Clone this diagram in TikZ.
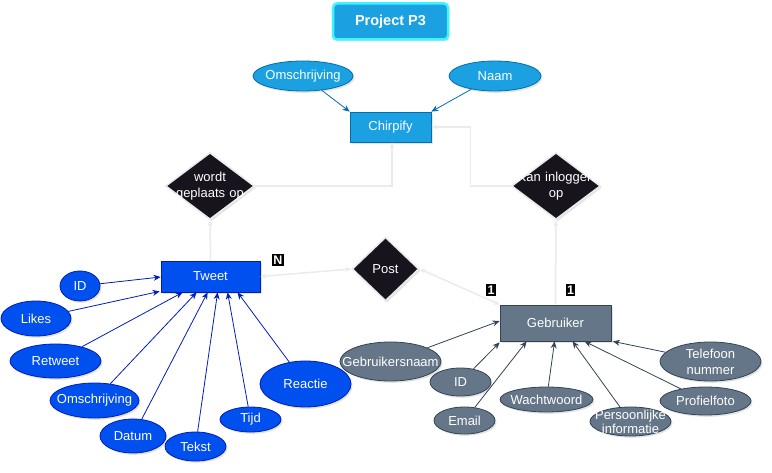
\documentclass[tikz,border=0pt]{standalone}
\usepackage{fontspec}
\setmainfont{Liberation Sans}
\usetikzlibrary{shapes.geometric,arrows.meta,shadows,calc}
\definecolor{lblue}{HTML}{1BA1E2}
\definecolor{lblueb}{HTML}{006EAF}
\definecolor{tblue}{HTML}{0050EF}
\definecolor{tblueb}{HTML}{001DBC}
\definecolor{gfill}{HTML}{647687}
\definecolor{gline}{HTML}{314354}
\definecolor{dfill}{HTML}{18141D}
\definecolor{relline}{HTML}{EBEBEB}
\definecolor{cyanb}{HTML}{3CF5FF}
\tikzset{
  shd/.style={drop shadow={opacity=0.22,shadow xshift=1.5pt,shadow yshift=-1.8pt}},
  txt/.style={font=\fontsize{13}{15}\selectfont,text=white,align=center,inner sep=0pt},
  txt2/.style={font=\fontsize{13}{15}\selectfont,text=white,align=center,inner sep=0pt},
  entbox/.style={rectangle,txt,shd},
  attrell/.style={ellipse,inner sep=0pt,shd,line width=0.8pt},
  relshape/.style={diamond,draw=relline,fill=dfill,line width=1.6pt,inner sep=0pt,shd},
  rellbl/.style={txt,text width=100pt,font=\fontsize{13}{16}\selectfont},
  relc/.style={draw=relline,line width=1.5pt,-{Stealth[length=6pt,width=5pt]}},
  relcc/.style={draw=relline,line width=1.5pt,{Stealth[length=6pt,width=5pt]}-{Stealth[length=6pt,width=5pt]}},
  tarr/.style={draw=tblueb,line width=0.8pt,-{Stealth[length=7pt,width=6pt]}},
  garr/.style={draw=gline,line width=0.8pt,-{Stealth[length=7pt,width=6pt]}},
  bwo/.style={rectangle,fill=black,text=white,font=\bfseries\fontsize{12.5}{13}\selectfont,inner xsep=1.3pt,inner ysep=1.6pt},
  tatt/.style={attrell,fill=tblue,draw=tblueb},
  gatt/.style={attrell,fill=gfill,draw=gline},
  lab/.style={label={[txt]center:{#1}}},
}
\begin{document}
\begin{tikzpicture}[x=1pt,y=-1pt]
\useasboundingbox (0,0) rectangle (772,473);

% title
\node[rectangle,rounded corners=4pt,fill=lblue,draw=cyanb,line width=2.5pt,
  minimum width=115pt,minimum height=36pt,text=white,
  font=\bfseries\fontsize{14.5}{16}\selectfont,shd] (title) at (390.5,21.5) {Project P3};

% entities
\node[entbox,fill=lblue,draw=lblueb,line width=0.8pt,minimum width=81pt,minimum height=30pt] (ch) at (390.5,127) {Chirpify};
\node[entbox,fill=tblue,draw=tblueb,line width=0.8pt,minimum width=99pt,minimum height=31pt] (tw) at (210.5,276.5) {Tweet};
\node[entbox,fill=gfill,draw=gline,line width=0.8pt,minimum width=111pt,minimum height=36pt] (ge) at (555.5,323) {Gebruiker};

% Chirpify attributes
\node[attrell,fill=lblue,draw=lblueb,minimum width=100pt,minimum height=30pt,lab=Omschrijving] (com) at (303,76) {};
\node[attrell,fill=lblue,draw=lblueb,minimum width=92pt,minimum height=30pt,lab=Naam] (cna) at (495,76) {};
\draw[draw=lblueb,line width=0.8pt,-{Stealth[length=7pt,width=6pt]}] (com) -- (ch.north west);
\draw[draw=lblueb,line width=0.8pt,-{Stealth[length=7pt,width=6pt]}] (cna) -- (ch.north east);

% relationships
\node[relshape,minimum width=89pt,minimum height=67pt] (wg) at (210,186) {};
\node[rellbl] at (wg) {wordt\\geplaats op};
\node[relshape,minimum width=89pt,minimum height=67pt] (ki) at (556,186) {};
\node[rellbl] at (ki) {Kan inloggen\\op};
\node[relshape,minimum width=67pt,minimum height=64pt] (po) at (385.5,269) {};
\node[rellbl] at (po) {Post};

% relationship connectors
\draw[relc] (wg.east) -| ([xshift=1.5pt]ch.south);
\draw[relc] (ki.west) -- ++(-40,0) |- (ch.east);
\draw[relc] (tw.north) -- (wg.south);
\draw[relc] (ge.north) -- (ki.south);
\draw[relcc] (po.west) -- (tw.east);
\draw[relcc] (po.east) -- (ge.north west);

% cardinalities
\node[bwo] (cn) at (278,260) {N};
\node[bwo] (c1a) at (491,290) {1};
\node[bwo] (c1b) at (570.5,290) {1};

% Tweet attributes
\node[tatt,minimum width=40pt,minimum height=30pt,lab=ID] (tid) at (80,286) {};
\node[tatt,minimum width=70pt,minimum height=35pt,lab=Likes] (tli) at (36,318.5) {};
\node[tatt,minimum width=91pt,minimum height=34pt,lab=Retweet] (tre) at (55.5,361) {};
\node[tatt,minimum width=89pt,minimum height=35pt,lab=Omschrijving] (tom) at (94.5,400.5) {};
\node[tatt,minimum width=66pt,minimum height=34pt,lab=Datum] (tda) at (133,436) {};
\node[tatt,minimum width=61pt,minimum height=29pt,lab=Tekst] (tte) at (195.5,446.5) {};
\node[tatt,minimum width=61pt,minimum height=25pt,lab=Tijd] (tti) at (250.5,419.5) {};
\node[tatt,minimum width=91pt,minimum height=46pt,lab=Reactie] (tra) at (305.5,384) {};

\draw[tarr] (tid) -- ([yshift=-0.5pt]tw.west);
\draw[tarr] (tli) -- ([xshift=-1pt,yshift=1pt]tw.south west);
\draw[tarr] (tre) -- ([xshift=22pt]tw.south west);
\draw[tarr] (tom) -- ([xshift=36pt]tw.south west);
\draw[tarr] (tda) -- ([xshift=47pt]tw.south west);
\draw[tarr] (tte) -- ([xshift=57pt]tw.south west);
\draw[tarr] (tti) -- ([xshift=67pt]tw.south west);
\draw[tarr] (tra) -- ([xshift=77pt]tw.south west);

% Gebruiker attributes
\node[gatt,minimum width=101pt,minimum height=39pt,lab=Gebruikersnaam] (gna) at (390.5,361.5) {};
\node[gatt,minimum width=61pt,minimum height=28pt,lab=ID] (gid) at (460.5,382) {};
\node[gatt,minimum width=61pt,minimum height=27pt,lab=Email] (gem) at (464.5,420.5) {};
\node[gatt,minimum width=93pt,minimum height=25pt,lab=Wachtwoord] (gww) at (546.5,399.5) {};
\node[gatt,minimum width=81pt,minimum height=29pt,label={[txt2,font=\fontsize{13}{14}\selectfont]center:{Persoonlijke\\informatie}}] (gpi) at (630.5,421.5) {};
\node[gatt,minimum width=91pt,minimum height=28pt,lab=Profielfoto] (gpf) at (705.5,401) {};
\node[gatt,minimum width=101pt,minimum height=39pt,label={[txt2,font=\fontsize{13}{16}\selectfont]center:{Telefoon\\nummer}}] (gtn) at (710.5,361.5) {};

\draw[garr] (gna) -- ([yshift=2pt]ge.west);
\draw[garr] (gid) -- ([yshift=-1pt]ge.south west);
\draw[garr] (gem) -- ([xshift=27pt]ge.south west);
\draw[garr] (gww) -- ([xshift=55pt]ge.south west);
\draw[garr] (gpi) -- ([xshift=73pt]ge.south west);
\draw[garr] (gpf) -- ([xshift=85pt]ge.south west);
\draw[garr] (gtn) -- ([xshift=1.5pt]ge.south east);
\end{tikzpicture}
\end{document}
